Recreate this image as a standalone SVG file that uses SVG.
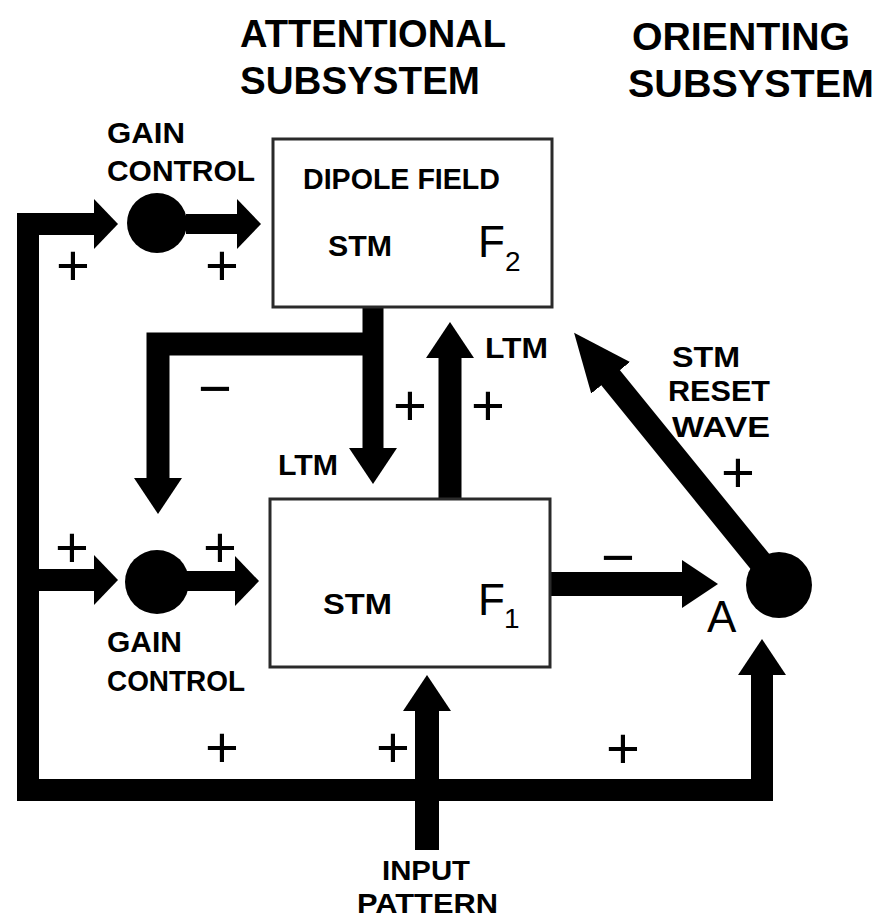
<svg xmlns="http://www.w3.org/2000/svg" width="878" height="922" viewBox="0 0 878 922">
<style>
text{font-family:"Liberation Sans",Arial,sans-serif;fill:#000}
.t{font-size:38px;font-weight:bold}
.s{font-size:30px;font-weight:bold}
.p{font-size:28px;font-weight:bold}
.f{font-size:44px}
.sub{font-size:28px}
.sg{font-size:58px;text-anchor:middle}
.box{fill:#fff;stroke:#2a2a2a;stroke-width:3}
.ln{fill:none;stroke:#000;stroke-linejoin:miter}
.dot{fill:#000}
</style>
<defs>
<marker id="hs" markerUnits="userSpaceOnUse" viewBox="0 0 24 50" markerWidth="24" markerHeight="50" refX="1" refY="25" orient="auto-start-reverse"><path d="M0,0 L24,25 L0,50 z" fill="#000"/></marker>
<marker id="hl" markerUnits="userSpaceOnUse" viewBox="0 0 36 48" markerWidth="36" markerHeight="48" refX="1" refY="24" orient="auto-start-reverse"><path d="M0,0 L36,24 L0,48 z" fill="#000"/></marker>
<marker id="hd" markerUnits="userSpaceOnUse" viewBox="0 0 58 50" markerWidth="58" markerHeight="50" refX="1" refY="25" orient="auto"><path d="M0,0 L58,25 L0,50 z" fill="#000"/></marker>
</defs>

<g id="titles">
<text class="t" x="240" y="47" textLength="266" lengthAdjust="spacingAndGlyphs">ATTENTIONAL</text>
<text class="t" x="240" y="94" textLength="240" lengthAdjust="spacingAndGlyphs">SUBSYSTEM</text>
<text class="t" x="632" y="50" textLength="218" lengthAdjust="spacingAndGlyphs">ORIENTING</text>
<text class="t" x="628" y="97" textLength="246" lengthAdjust="spacingAndGlyphs">SUBSYSTEM</text>
</g>

<g id="connectors">
<path class="ln" stroke-width="22" d="M95,224 L28,224 L28,790 L762,790 L762,674" marker-start="url(#hs)" marker-end="url(#hl)"/>
<path class="ln" stroke-width="22" d="M28,580 L95,580" marker-end="url(#hs)"/>
<path class="ln" stroke-width="20" d="M186,224 L238,224" marker-end="url(#hs)"/>
<path class="ln" stroke-width="20" d="M186,581 L236,581" marker-end="url(#hs)"/>
<path class="ln" stroke-width="21" d="M373,307 L373,449" marker-end="url(#hl)"/>
<path class="ln" stroke-width="23" d="M383,344 L158,344 L158,479" marker-end="url(#hl)"/>
<path class="ln" stroke-width="23" d="M450,499 L450,357" marker-end="url(#hl)"/>
<path class="ln" stroke-width="24" d="M427,850 L427,710" marker-end="url(#hl)"/>
<path class="ln" stroke-width="24" d="M550,584 L683,584" marker-end="url(#hl)"/>
<path class="ln" stroke-width="24" d="M779,585 L610,377" marker-end="url(#hd)"/>
</g>

<g id="gain-top">
<circle class="dot" cx="157" cy="223" r="30"/>
<text class="s" x="107" y="143" textLength="78" lengthAdjust="spacingAndGlyphs">GAIN</text>
<text class="s" x="107" y="181" textLength="148" lengthAdjust="spacingAndGlyphs">CONTROL</text>
</g>

<g id="gain-bottom">
<circle class="dot" cx="157" cy="582" r="32"/>
<text class="s" x="107" y="652" textLength="75" lengthAdjust="spacingAndGlyphs">GAIN</text>
<text class="s" x="107" y="691" textLength="138" lengthAdjust="spacingAndGlyphs">CONTROL</text>
</g>

<g id="F2">
<rect class="box" x="273" y="139" width="279" height="168"/>
<text class="s" x="303" y="189" textLength="197" lengthAdjust="spacingAndGlyphs">DIPOLE FIELD</text>
<text class="s" x="328" y="256" textLength="64" lengthAdjust="spacingAndGlyphs">STM</text>
<text class="f" x="478" y="257">F</text>
<text class="sub" x="505" y="271">2</text>
</g>

<g id="F1">
<rect class="box" x="270" y="499" width="280" height="168"/>
<text class="s" x="323" y="614" textLength="69" lengthAdjust="spacingAndGlyphs">STM</text>
<text class="f" x="478" y="615">F</text>
<text class="sub" x="504" y="628">1</text>
</g>

<g id="A-node">
<circle class="dot" cx="779" cy="585" r="33"/>
<text class="f" x="707" y="632">A</text>
</g>

<g id="labels">
<text class="s" x="278" y="475" textLength="60" lengthAdjust="spacingAndGlyphs">LTM</text>
<text class="s" x="485" y="358" textLength="63" lengthAdjust="spacingAndGlyphs">LTM</text>
<text class="s" x="672" y="367" textLength="68" lengthAdjust="spacingAndGlyphs">STM</text>
<text class="s" x="668" y="401" textLength="102" lengthAdjust="spacingAndGlyphs">RESET</text>
<text class="s" x="672" y="437" textLength="98" lengthAdjust="spacingAndGlyphs">WAVE</text>
<text class="p" x="382" y="880" textLength="88" lengthAdjust="spacingAndGlyphs">INPUT</text>
<text class="p" x="357" y="913" textLength="141" lengthAdjust="spacingAndGlyphs">PATTERN</text>
</g>

<g id="signs">
<text class="sg" x="73" y="285">+</text>
<text class="sg" x="222" y="285">+</text>
<text class="sg" x="410" y="425">+</text>
<text class="sg" x="488" y="425">+</text>
<text class="sg" x="72" y="567">+</text>
<text class="sg" x="220" y="567">+</text>
<text class="sg" x="222" y="767">+</text>
<text class="sg" x="393" y="767">+</text>
<text class="sg" x="623" y="768">+</text>
<text class="sg" x="738" y="492">+</text>
<text class="sg" x="215" y="408">−</text>
<text class="sg" x="618" y="577">−</text>
</g>
</svg>
